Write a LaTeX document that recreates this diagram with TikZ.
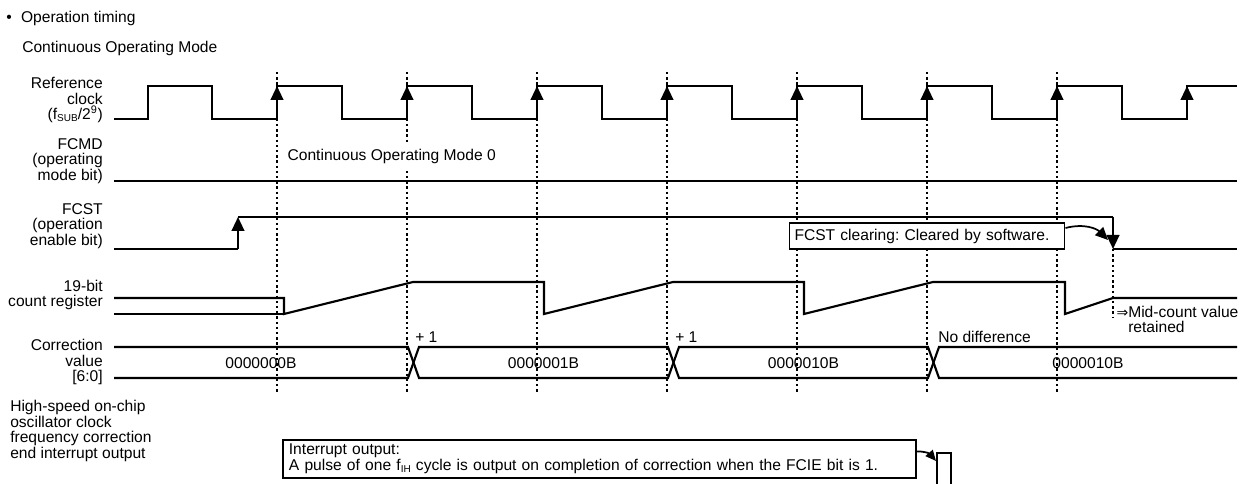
\documentclass[tikz,border=0pt]{standalone}
\usepackage{fontspec}
\setmainfont{Liberation Sans}
\newfontfamily\djv{DejaVu Sans}
\usetikzlibrary{arrows.meta}
\newcommand\lbfont{\fontsize{11.7}{11.7}\selectfont}
\newcommand\smallsub[1]{\raisebox{-0.2ex}{\fontsize{7.5}{7.5}\selectfont #1}}
\frenchspacing
\begin{document}
\begin{tikzpicture}[x=0.75pt,y=-0.75pt,
  font=\lbfont,
  clk/.style={line width=1.1pt},
  sig/.style={line width=1.6pt},
  thicksig/.style={line width=1.8pt},
  guide/.style={line width=1.8pt, dash pattern=on 1.8pt off 2.1pt},
  edgearrow/.style={line width=1.6pt, -{Triangle[width=9.5pt,length=10.5pt]}},
  curvearrow/.style={line width=1.3pt, -{Triangle[width=8.5pt,length=9.5pt]}},
  smallcurvearrow/.style={line width=1.3pt, -{Triangle[width=7pt,length=8pt]}},
  lbl/.style={anchor=east, align=right, inner sep=0pt},
  plain/.style={inner sep=0pt},
  notebox/.style={draw, line width=1.4pt, fill=white, align=left, inner ysep=1pt}
]
\useasboundingbox (0,0) rectangle (1253,484);

% titles
\node[plain, anchor=base west] (title) at (6,23) {\textbullet\hspace{7pt}Operation timing};
\node[plain, anchor=base west] (mode) at (22,53) {Continuous Operating Mode};

% signal labels
\node[lbl] (lref) at (103,100) {Reference\\clock\\(f\smallsub{SUB}/2\textsuperscript{9})};
\node[lbl] (lfcmd) at (103,161) {FCMD\\(operating\\mode bit)};
\node[lbl] (lfcst) at (103,226) {FCST\\(operation\\enable bit)};
\node[lbl] (lcnt) at (103,295) {19-bit\\count register};
\node[lbl] (lcorr) at (103,362) {Correction\\value\\{[6:0]}};
\node[plain, anchor=west, align=left] (lint) at (10,431) {High-speed on-chip\\oscillator clock\\frequency correction\\end interrupt output};

% dotted guides
\foreach \gx in {277,407,537,667,797,927,1057}
  \draw[guide] (\gx,72) -- (\gx,392);
\draw[guide] (1113,249) -- (1113,318);

% reference clock
\draw[clk] (114,119) -- (148,119) -- (148,86) -- (212,86) -- (212,119) -- (277,119)
  -- (277,86) -- (342,86) -- (342,119) -- (407,119) -- (407,86) -- (472,86) -- (472,119)
  -- (537,119) -- (537,86) -- (602,86) -- (602,119) -- (667,119) -- (667,86) -- (732,86)
  -- (732,119) -- (797,119) -- (797,86) -- (862,86) -- (862,119) -- (927,119) -- (927,86)
  -- (992,86) -- (992,119) -- (1057,119) -- (1057,86) -- (1122,86) -- (1122,119)
  -- (1187,119) -- (1187,86) -- (1237,86);
\foreach \gx in {277,407,537,667,797,927,1057,1187}
  \draw[edgearrow] (\gx,119) -- (\gx,86);

% FCMD
\draw[thicksig] (114,181) -- (1237,181);
\node[plain, anchor=base west, fill=white, inner ysep=5pt, inner xsep=1pt] (mode0) at (286,161) {Continuous Operating Mode 0};

% FCST
\draw[sig] (114,249) -- (238,249);
\draw[edgearrow] (238,249) -- (238,217);
\draw[sig] (238,217) -- (1113,217);
\draw[edgearrow] (1113,217) -- (1113,249);
\draw[sig] (1113,249) -- (1237,249);
\node[notebox, text width=198.75pt, inner xsep=3.75pt, minimum height=19.5pt] (fcstbox) at (927,236) {FCST clearing: Cleared by software.};
\coordinate (fcstfall) at (1108,240);
\draw[curvearrow] ([yshift=6pt]fcstbox.east) .. controls (1085,223) and (1097,229) .. (fcstfall);

% 19-bit count register
\draw[sig] (114,314) -- (284,314);
\draw[sig] (114,298) -- (284,298) -- (284,314) -- (413,282) -- (544,282) -- (544,314)
  -- (673,282) -- (804,282) -- (804,314) -- (933,282) -- (1065,282) -- (1065,314)
  -- (1113,298) -- (1237,298);
\node[plain, anchor=west, align=left] (midcount) at (1128,319.5) {\llap{\djv\fontsize{10.5}{10.5}\selectfont ⇒}Mid-count value\\retained};

% correction value bus
\draw[sig] (114,347) -- (408,347) -- (419,378) -- (668,378) -- (679,347) -- (928,347) -- (939,378) -- (1237,378);
\draw[sig] (114,378) -- (408,378) -- (419,347) -- (668,347) -- (679,378) -- (928,378) -- (939,347) -- (1237,347);
\node[plain] (v0) at (261,363) {0000000B};
\node[plain] (v1) at (543.5,363) {0000001B};
\node[plain] (v2) at (803.5,363) {0000010B};
\node[plain] (v3) at (1088,363) {0000010B};
\node[plain, anchor=west] (p1a) at (415,337) {+ 1};
\node[plain, anchor=west] (p1b) at (675,337) {+ 1};
\node[plain, anchor=west] (nodiff) at (938,337) {No difference};

% interrupt output
\node[notebox, text width=465.75pt, inner xsep=4.5pt, minimum height=28.3pt] (intbox) at (599.4,458.9)
  {Interrupt output:\\A pulse of one f\smallsub{IH} cycle is output on completion of correction when the FCIE bit is 1.};
\coordinate (pulsetop) at (936,461);
\draw[smallcurvearrow] ([yshift=5.5pt]intbox.east) .. controls (925,451) and (930,454) .. (pulsetop);
\draw[sig] (937,484) -- (937,453) -- (951,453) -- (951,484);
\end{tikzpicture}
\end{document}
